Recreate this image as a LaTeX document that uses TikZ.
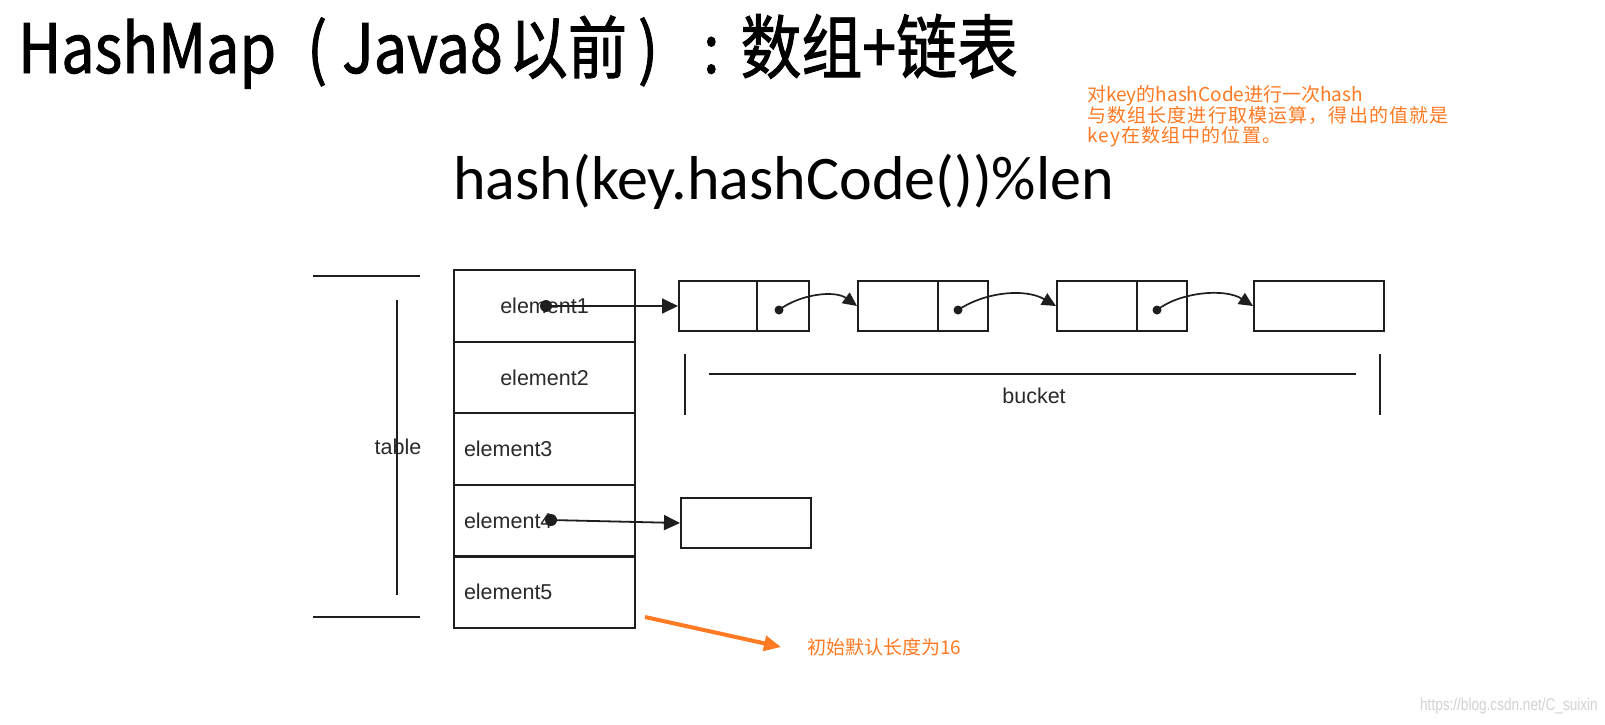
\documentclass[tikz,border=0pt]{standalone}
\usepackage{fontspec}
\setmainfont{Liberation Sans}
\newfontfamily\cjk{Noto Sans CJK SC}
\newfontfamily\cjkwide{Noto Sans CJK SC}[LetterSpace=6]
\newfontfamily\cjkbold{Noto Sans CJK SC}[FakeBold=1.3, FakeStretch=0.87]
\newfontfamily\calib{Carlito}
\usetikzlibrary{arrows.meta}
\definecolor{orng}{HTML}{FF7A22}
\definecolor{inkgray}{HTML}{2A2A2A}
\definecolor{linegray}{HTML}{1E1E1E}
\definecolor{wmgray}{HTML}{D2D2D2}
\tikzset{
  cell/.style={draw=linegray, line width=2.2pt, minimum width=181pt, minimum height=71.6pt,
    text width=161pt, inner xsep=10pt, inner ysep=0pt, font=\fontsize{21.5}{24}\selectfont, text=inkgray},
  listbox/.style={draw=linegray, line width=2pt, minimum width=130pt, minimum height=50pt, inner sep=0pt},
  ptr/.style={-{Triangle[length=16pt,width=15pt]}, line width=1.8pt, draw=linegray},
  cptr/.style={-{Triangle[length=14pt,width=13pt]}, line width=1.7pt, draw=linegray},
  brk/.style={line width=2.2pt, draw=linegray},
  note/.style={anchor=base west, inner sep=0pt, text=orng, font=\cjk\fontsize{19}{20}\selectfont},
}
\begin{document}
\begin{tikzpicture}[x=1pt,y=-1pt]
\useasboundingbox (0,0) rectangle (1605,724);
\fill[white] (0,0) rectangle (1605,724);

% title and formula
\node[anchor=base west, inner sep=0pt, text=black] (title) at (18,73)
  {\cjkbold\fontsize{68}{70}\selectfont HashMap\hspace{31pt}(\hspace{15pt}Java8\hspace{6pt}以前\hspace{11pt})\hspace{45pt}:\hspace{21pt}{\fontsize{70}{70}\selectfont 数组+链表}};
\node[anchor=base west, inner sep=0pt, text=black] (formula) at (453,199)
  {\calib\fontsize{62}{64}\selectfont hash(key.hashCode())\%len};

% orange note
\node[note] (note1) at (1087,101) {对key的hashCode进行一次hash};
\node[note, font=\cjkwide\fontsize{19}{20}\selectfont] (note2) at (1087,122) {与数组长度进行取模运算，得出的值就是};
\node[note, font=\cjkwide\fontsize{19}{20}\selectfont] (note3) at (1087,142) {key在数组中的位置。};

% table
\node[cell, align=center] (r1) at (544.5,305.8) {element1};
\node[cell, align=center] (r2) at (544.5,377.4) {element2};
\node[cell, align=left]   (r3) at (544.5,449.0) {element3};
\node[cell, align=left]   (r4) at (544.5,520.6) {element4};
\node[cell, align=left]   (r5) at (544.5,592.2) {element5};

% table bracket
\node[text=inkgray, font=\fontsize{21.5}{24}\selectfont, inner sep=0pt] (tlabel) at (398,447) {table};
\coordinate (bt1) at (313,276);
\coordinate (bt2) at (420,276);
\coordinate (bb1) at (313,617);
\coordinate (bb2) at (420,617);
\coordinate (bv1) at (397,300);
\coordinate (bv2) at (397,595);
\draw[brk] (bt1) -- (bt2);
\draw[brk] (bb1) -- (bb2);
\draw[brk] (bv1) -- (bv2);

% linked list
\node[listbox] (b1) at (744,306) {};
\node[listbox] (b2) at (923,306) {};
\node[listbox] (b3) at (1122,306) {};
\node[listbox] (b4) at (1319,306) {};
\node[listbox] (b5) at (746,523) {};
\draw[line width=2pt, linegray] ([xshift=79pt]b1.north west) -- ([xshift=79pt]b1.south west);
\draw[line width=2pt, linegray] ([xshift=81pt]b2.north west) -- ([xshift=81pt]b2.south west);
\draw[line width=2pt, linegray] ([xshift=81pt]b3.north west) -- ([xshift=81pt]b3.south west);

% pointers
\coordinate (d1) at (546,306);
\coordinate (d4) at (551,520);
\coordinate (p1) at (779,310);
\coordinate (p2) at (958,310);
\coordinate (p3) at (1157,310);
\fill[linegray] (d1) circle (6pt);
\fill[linegray] (d4) circle (6pt);
\fill[linegray] (p1) circle (4.5pt);
\fill[linegray] (p2) circle (4.5pt);
\fill[linegray] (p3) circle (4.5pt);
\draw[ptr] (d1) -- (b1.west);
\draw[ptr] (d4) -- (b5.west);
\draw[cptr] (p1) .. controls (800,294) and (835,290) .. (b2.west);
\draw[cptr] (p2) .. controls (985,292) and (1025,288) .. (b3.west);
\draw[cptr] (p3) .. controls (1180,292) and (1225,288) .. (b4.west);

% bucket bracket
\coordinate (kl1) at (685,354);
\coordinate (kl2) at (685,415);
\coordinate (kr1) at (1380,354);
\coordinate (kr2) at (1380,415);
\coordinate (kh1) at (709,374);
\coordinate (kh2) at (1356,374);
\draw[brk] (kl1) -- (kl2);
\draw[brk] (kr1) -- (kr2);
\draw[brk] (kh1) -- (kh2);
\node[text=inkgray, font=\fontsize{21.5}{24}\selectfont, inner sep=0pt] (blabel) at (1034,396) {bucket};

% orange arrow and note
\node[anchor=west, inner sep=0pt, text=orng, font=\cjk\fontsize{19}{20}\selectfont] (note4) at (807,647) {初始默认长度为16};
\coordinate (oa) at (645,617);
\draw[orng, line width=4pt, -{Triangle[length=17pt,width=15pt]}] (oa) -- ([xshift=-26pt]note4.west);

% watermark
\node[anchor=east, inner sep=0pt, text=wmgray, font=\fontsize{17}{18}\selectfont] (wm) at (1598,706)
  {\addfontfeatures{FakeStretch=0.8}https://blog.csdn.net/C\_suixin};
\end{tikzpicture}
\end{document}
